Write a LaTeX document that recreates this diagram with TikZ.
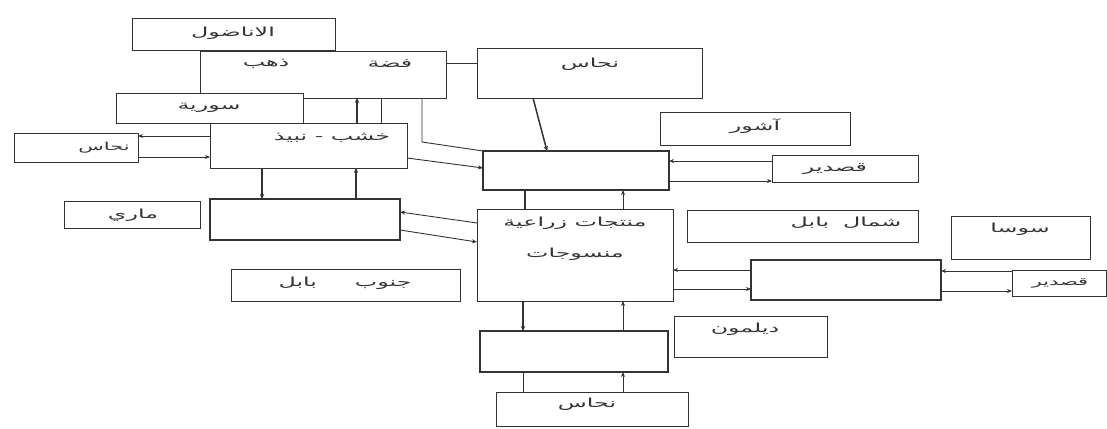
\documentclass[tikz,border=0pt]{standalone}
\usepackage{fontspec}
\usetikzlibrary{arrows.meta}
\newfontfamily\ar[Script=Arabic,FakeStretch=1.9]{DejaVu Sans}
\TeXXeTstate=1
\definecolor{ink}{HTML}{333333}
\newcommand\rbox[6]{\node[#1, minimum width={(#4-#2)*1pt}, minimum height={(#5-#3)*1pt}] (#6) at ({(#2+#4)/2},{(#3+#5)/2}) {};}
\tikzset{
  lbox/.style={draw=ink, line width=0.9pt, inner sep=0pt, outer sep=0pt, fill=white},
  ebox/.style={draw=ink, line width=1.1pt, inner sep=0pt, outer sep=0pt, fill=white},
  lbl/.style={text=ink, inner sep=0pt, font=\ar\fontsize{12.5}{14}\selectfont},
  small lbl/.style={text=ink, inner sep=0pt, font=\ar\fontsize{11}{13}\selectfont},
  conn/.style={draw=ink, line width=0.9pt},
  thick conn/.style={draw=ink, line width=1.5pt},
  arr/.style={conn, -{Stealth[length=5pt,width=4pt]}},
  thick arr/.style={thick conn, -{Stealth[length=5pt,width=4.5pt]}}
}
\begin{document}
\begin{tikzpicture}[x=1pt,y=-1pt]
\useasboundingbox (0,0) rectangle (1107,428);
\fill[white] (0,0) rectangle (1107,428);
% labelled boxes
\rbox{lbox}{132}{18}{335}{50}{anat}
\rbox{lbox}{200}{51}{446}{98}{gold}
\rbox{lbox}{477}{48}{702}{98}{nuhasT}
\rbox{lbox}{116}{93}{303}{123}{suria}
\rbox{lbox}{210}{123}{407}{168}{khashab}
\rbox{lbox}{14}{133}{138}{162}{nuhasL}
\rbox{lbox}{64}{201}{200}{228}{mariL}
\rbox{lbox}{660}{112}{850}{145}{ashurL}
\rbox{lbox}{772}{155}{918}{182}{qasdirT}
\rbox{lbox}{477}{209}{673}{301}{center}
\rbox{lbox}{687}{210}{918}{242}{shamal}
\rbox{lbox}{951}{216}{1090}{259}{susa}
\rbox{lbox}{1012}{270}{1106}{296}{qasdirR}
\rbox{lbox}{231}{269}{460}{301}{janub}
\rbox{lbox}{674}{316}{827}{357}{dilmunL}
\rbox{lbox}{496}{392}{688}{426}{nuhasB}
% empty region boxes
\rbox{ebox}{210}{199}{400}{240}{mari}
\rbox{ebox}{483}{151}{669}{190}{ashurB}
\rbox{ebox}{751}{260}{941}{300}{rightB}
\rbox{ebox}{480}{331}{668}{372}{dilmunB}
% texts
\node[lbl] (t-anat) at (233,33) {\beginR الاناضول\endR};
\node[lbl] (t-fidda) at (390,64) {\beginR فضة\endR};
\node[lbl] (t-dhahab) at (266,64) {\beginR ذهب\endR};
\node[lbl] (t-nuhasT) at (590,64) {\beginR نحاس\endR};
\node[lbl] (t-suria) at (209,108) {\beginR سورية\endR};
\node[lbl] (t-khashab) at (332,138) {\beginR خشب - نبيذ\endR};
\node[small lbl] (t-nuhasL) at (104,148) {\beginR نحاس\endR};
\node[lbl] (t-mari) at (133,215) {\beginR ماري\endR};
\node[lbl] (t-ashur) at (755,126) {\beginR آشور\endR};
\node[lbl] (t-qasdirT) at (835,169) {\beginR قصدير\endR};
\node[lbl] (t-center1) at (575,223) {\beginR منتجات زراعية\endR};
\node[lbl] (t-center2) at (575,254) {\beginR منسوجات\endR};
\node[lbl] (t-shamal) at (846,223) {\beginR شمال\hspace{14pt}بابل\endR};
\node[lbl] (t-susa) at (1020,229) {\beginR سوسا\endR};
\node[small lbl] (t-qasdirR) at (1060,283) {\beginR قصدير\endR};
\node[lbl] (t-janub) at (345,283) {\beginR جنوب\hspace{38pt}بابل\endR};
\node[lbl] (t-dilmun) at (745,329) {\beginR ديلمون\endR};
\node[lbl] (t-nuhasB) at (587,404) {\beginR نحاس\endR};
% connectors
\draw[conn] (gold.east |- 0,63) -- (nuhasT.west |- 0,63);
\draw[thick arr] (khashab.north -| 357,0) -- (gold.south -| 357,0);
\draw[conn] (gold.south -| 381,0) -- (khashab.north -| 381,0);
\draw[conn] (gold.south -| 422,0) -- (422,142) -- (ashurB.north west);
\draw[arr] (khashab.east |- 0,158) -- (ashurB.west |- 0,168);
\draw[thick arr] (nuhasT.south -| 533,0) -- (ashurB.north -| 547,0);
\draw[arr] (khashab.west |- 0,136) -- (nuhasL.east |- 0,136);
\draw[arr] (nuhasL.east |- 0,157) -- (khashab.west |- 0,157);
\draw[thick arr] (khashab.south -| 262,0) -- (mari.north -| 262,0);
\draw[thick arr] (mari.north -| 356,0) -- (khashab.south -| 356,0);
\draw[arr] (center.west |- 0,223) -- (mari.east |- 0,212);
\draw[arr] (mari.east |- 0,230) -- (center.west |- 0,242);
\draw[thick conn] (center.north -| 525,0) -- (ashurB.south -| 525,0);
\draw[arr] (center.north -| 623,0) -- (ashurB.south -| 623,0);
\draw[arr] (qasdirT.west |- 0,161) -- (ashurB.east |- 0,161);
\draw[arr] (ashurB.east |- 0,181) -- (qasdirT.west |- 0,181);
\draw[arr] (rightB.west |- 0,270) -- (center.east |- 0,270);
\draw[arr] (center.east |- 0,289) -- (rightB.west |- 0,289);
\draw[arr] (qasdirR.west |- 0,271) -- (rightB.east |- 0,271);
\draw[arr] (rightB.east |- 0,291) -- (qasdirR.west |- 0,291);
\draw[thick arr] (center.south -| 523,0) -- (dilmunB.north -| 523,0);
\draw[arr] (dilmunB.north -| 623,0) -- (center.south -| 623,0);
\draw[conn] (nuhasB.north -| 523,0) -- (dilmunB.south -| 523,0);
\draw[arr] (nuhasB.north -| 623,0) -- (dilmunB.south -| 623,0);
\end{tikzpicture}
\end{document}
